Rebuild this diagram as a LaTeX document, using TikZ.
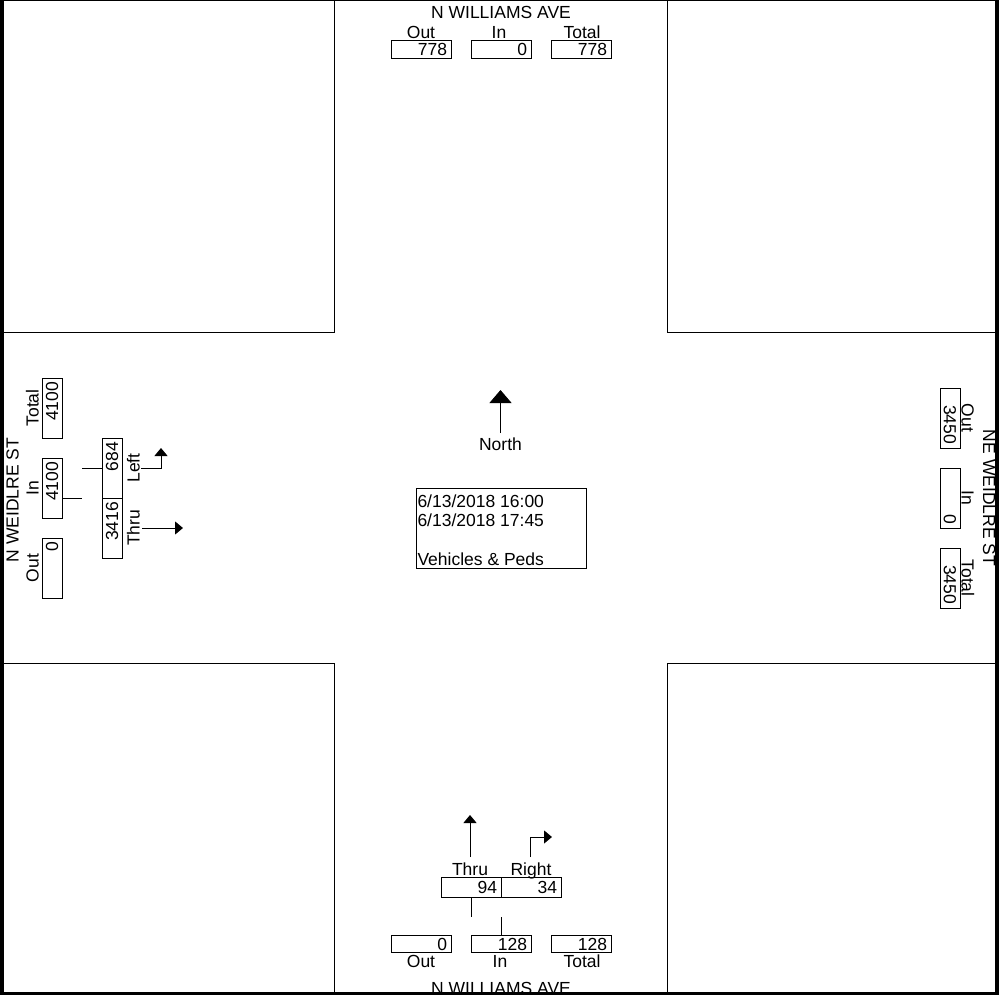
\documentclass[tikz,border=0pt]{standalone}
\usepackage{fontspec}
\setmainfont{Liberation Sans}
\usetikzlibrary{arrows.meta}
\begin{document}
\begin{tikzpicture}[x=1pt,y=-1pt,line width=1pt,
  every node/.style={font=\fontsize{17.5}{19.3}\selectfont,inner sep=0pt},
  numbox/.style={draw,minimum width=60pt,minimum height=20pt,text width=52pt,align=right,inner xsep=4pt,inner ysep=0pt},
  flatbox/.style={numbox,minimum height=17.5pt},
  lbl/.style={anchor=base},
  arr/.style={-{Triangle[length=8pt,width=13pt]}},
  northarr/.style={-{Triangle[length=13pt,width=22pt]}},
  frame/.style={fill=black,draw=none}]
\useasboundingbox (0,0) rectangle (999,995);
% quadrant corners
\draw (4,332) -- (334,332) -- (334,0);
\draw (667,0) -- (667,332) -- (995,332);
\draw (4,663) -- (334,663) -- (334,995);
\draw (667,995) -- (667,663) -- (995,663);
% top approach
\node[lbl] (tname) at (501,18.5) {N WILLIAMS AVE};
\node[lbl] (tOutL) at (421,39) {Out};
\node[lbl] (tInL) at (499,39) {In};
\node[lbl] (tTotL) at (582,39) {Total};
\node[flatbox] (tOut) at (421,49.5) {778};
\node[flatbox] (tIn) at (501,49.5) {0};
\node[flatbox] (tTot) at (581,49.5) {778};
% bottom approach
\node[flatbox] (bOut) at (421,944) {0};
\node[flatbox] (bIn) at (501,944) {128};
\node[flatbox] (bTot) at (581,944) {128};
\node[lbl] (bOutL) at (421,967.5) {Out};
\node[lbl] (bInL) at (500,967.5) {In};
\node[lbl] (bTotL) at (582,967.5) {Total};
\node[lbl] (bname) at (501,994) {N WILLIAMS AVE};
\node[numbox] (bThru) at (471,887) {94};
\node[numbox] (bRight) at (531,887) {34};
\node[lbl] (bThruL) at (470,875) {Thru};
\node[lbl] (bRightL) at (531,875) {Right};
\coordinate (bj) at (471,917);
\coordinate (bk) at (501,917);
\draw (bThru.south) -- (bj);
\draw (bIn.north) -- (bk);
\coordinate (bta0) at (470,857);
\coordinate (bta1) at (470,815);
\draw[arr] (bta0) -- (bta1);
\coordinate (bra0) at (530,857);
\coordinate (bra1) at (530,837);
\coordinate (bra2) at (552,837);
\draw[arr] (bra0) -- (bra1) -- (bra2);
% left approach
\node[lbl,rotate=90] (lname) at (18.5,500) {N WEIDLRE ST};
\node[lbl,rotate=90] (lTotL) at (38.5,408) {Total};
\node[lbl,rotate=90] (lInL) at (38.5,488) {In};
\node[lbl,rotate=90] (lOutL) at (38.5,568) {Out};
\node[numbox,rotate=90] (lTot) at (52,408) {4100};
\node[numbox,rotate=90] (lIn) at (52,488) {4100};
\node[numbox,rotate=90] (lOut) at (52,568) {0};
\node[numbox,rotate=90] (lLeft) at (112,468) {684};
\node[numbox,rotate=90] (lThru) at (112,528) {3416};
\node[lbl,rotate=90] (lLeftL) at (139.5,468) {Left};
\node[lbl,rotate=90] (lThruL) at (139.5,528) {Thru};
\coordinate (lj0) at (62,498);
\coordinate (lj1) at (82,498);
\coordinate (lk0) at (82,468);
\draw (lj0) -- (lj1);
\draw (lk0) -- (lLeft.north);
\coordinate (lla0) at (141,468);
\coordinate (lla1) at (161,468);
\coordinate (lla2) at (161,448);
\draw[arr] (lla0) -- (lla1) -- (lla2);
\coordinate (lta0) at (142,528);
\coordinate (lta1) at (183,528);
\draw[arr] (lta0) -- (lta1);
% right approach
\node[numbox,rotate=-90] (rOut) at (950,418) {3450};
\node[numbox,rotate=-90] (rIn) at (950,498) {0};
\node[numbox,rotate=-90] (rTot) at (950,578) {3450};
\node[lbl,rotate=-90] (rOutL) at (961.5,418) {Out};
\node[lbl,rotate=-90] (rInL) at (961.5,498) {In};
\node[lbl,rotate=-90] (rTotL) at (961.5,578) {Total};
\node[lbl,rotate=-90] (rname) at (983,498) {NE WEIDLRE ST};
% north arrow
\node[lbl] (north) at (500.5,450.5) {North};
\coordinate (na0) at (500.5,433);
\coordinate (na1) at (500.5,390);
\draw[northarr] (na0) -- (na1);
% info box
\node[draw,anchor=north west,minimum width=170pt,minimum height=80pt] (info) at (416,488) {};
\node[anchor=base west] (d1) at (417,507) {6/13/2018 16:00};
\node[anchor=base west] (d2) at (417,526) {6/13/2018 17:45};
\node[anchor=base west] (d3) at (417,565) {Vehicles \& Peds};
% outer frame
\fill[frame] (0,0) rectangle (999,1.5);
\fill[frame] (0,0) rectangle (4,995);
\fill[frame] (994.5,0) rectangle (998.5,995);
\fill[frame] (0,991.5) rectangle (999,995);
\end{tikzpicture}
\end{document}
